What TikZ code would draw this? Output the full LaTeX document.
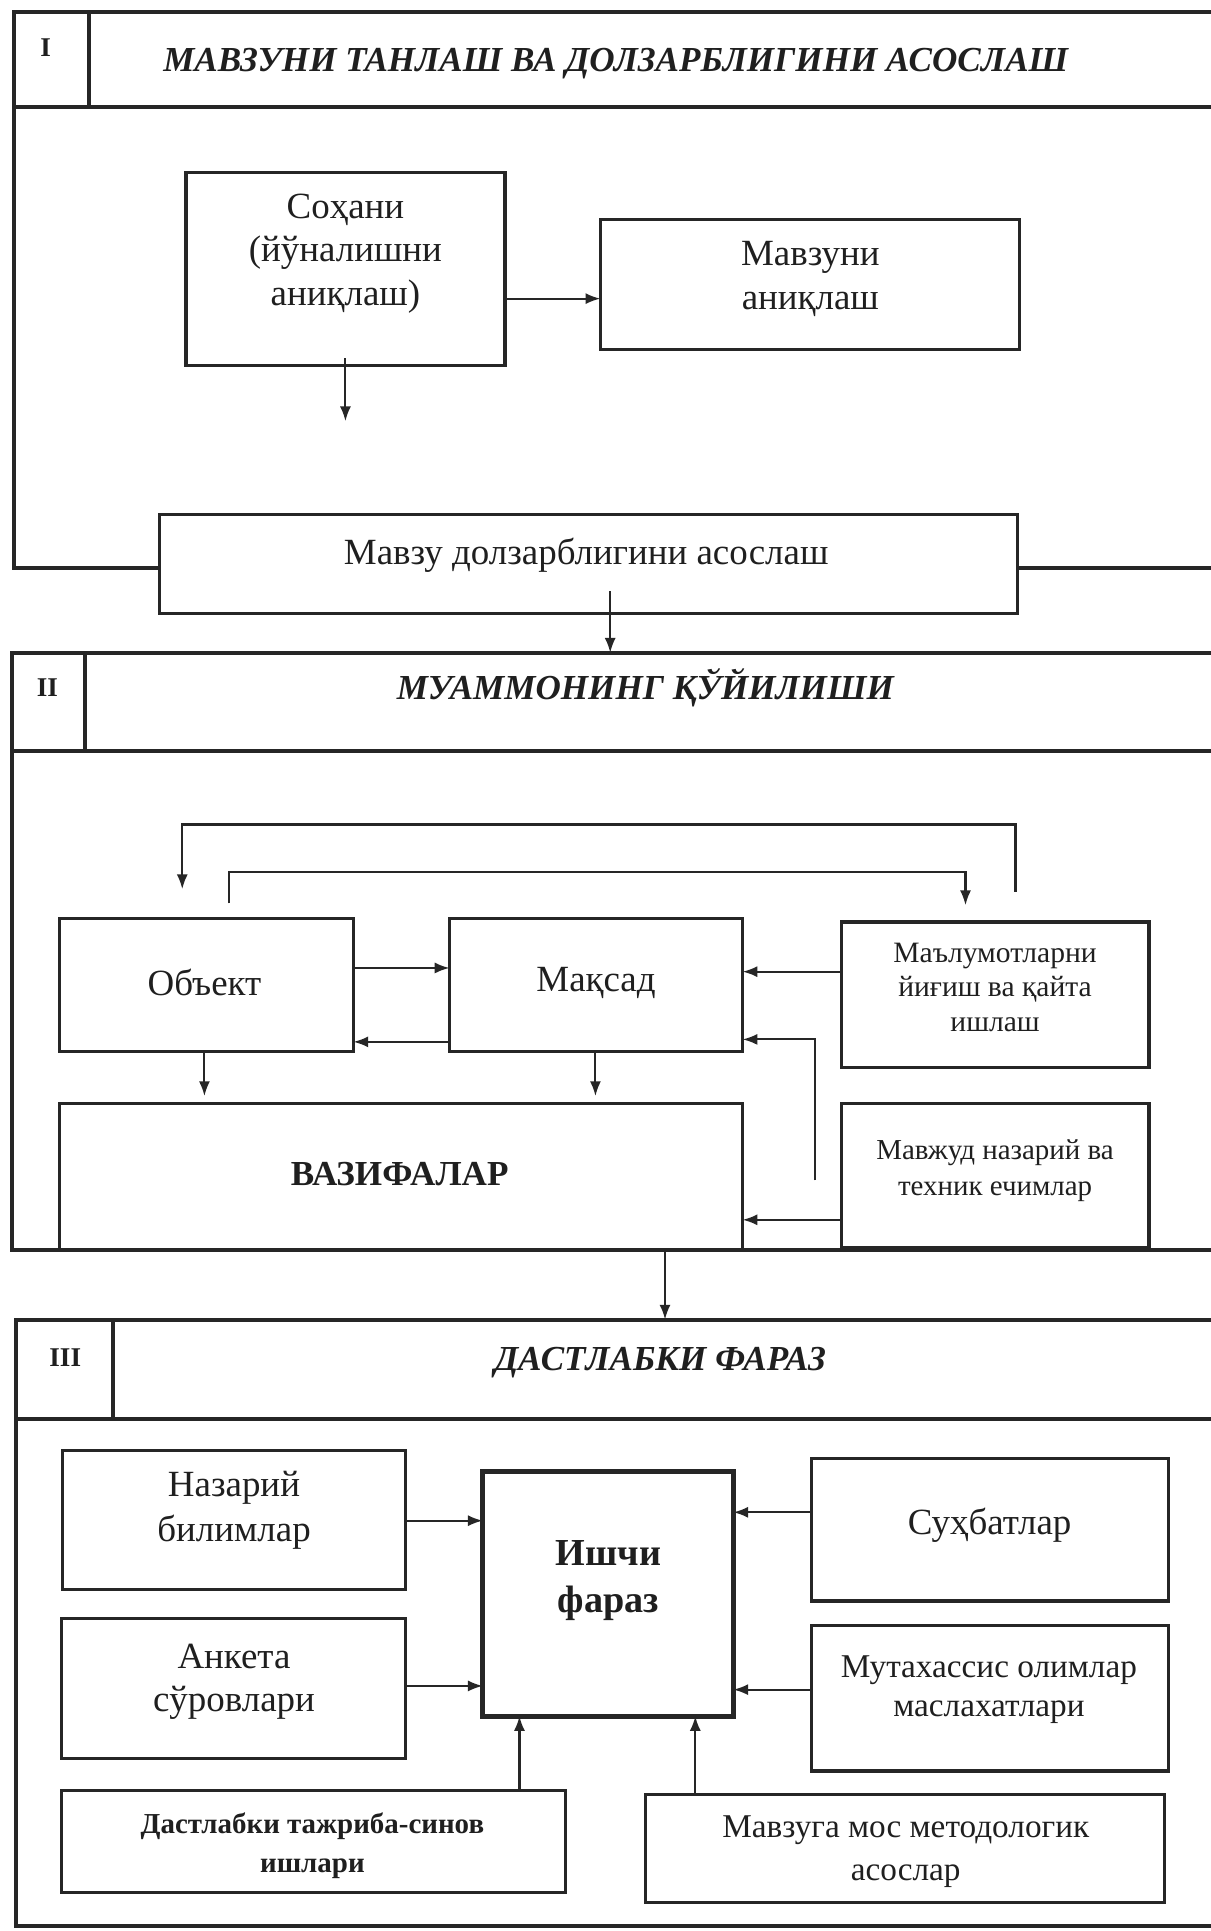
\documentclass[tikz,border=0pt]{standalone}
\usepackage{fontspec}
\setmainfont{Liberation Serif}
\usetikzlibrary{arrows.meta,fit,calc}
\newcommand\myfs[2]{\fontsize{#1}{#2}\selectfont}
\tikzset{
  frame/.style={line width=3.2pt, black!85},
  box/.style={draw=black!85, line width=2.6pt, fill=white, inner sep=0pt, outer sep=0pt, rectangle},
  thickbox/.style={box, line width=4.2pt},
  txt/.style={align=center, inner sep=0pt, text=black!88},
  ttl/.style={txt, font=\myfs{28.5}{34}\bfseries\itshape},
  num/.style={txt, font=\myfs{22}{26}\bfseries},
  arr/.style={line width=1.7pt, black!85, -{Latex[length=12pt,width=9pt]}},
}
\begin{document}
\begin{tikzpicture}[x=1pt,y=-1pt]
\fill[white] (0,0) rectangle (983,1568);
\useasboundingbox (0,0) rectangle (983,1568);

% ---------- Section I frame ----------
\draw[frame] (983,9.6) -- (11,9.6) -- (11,461) -- (983,461);
\draw[frame] (11,87) -- (983,87);
\draw[frame] (72,9.6) -- (72,87);
\node[num] (n1) at (37,38.5) {I};
\node[ttl] (t1) at (500,51.5) {МАВЗУНИ ТАНЛАШ ВА ДОЛЗАРБЛИГИНИ АСОСЛАШ};

% ---------- Section II frame ----------
\draw[frame] (983,530) -- (9.6,530) -- (9.6,1015) -- (983,1015);
\draw[frame] (9.6,610) -- (983,610);
\draw[frame] (69,530) -- (69,610);
\node[num] (n2) at (38.5,558.5) {II};
\node[ttl] (t2) at (524,558.4) {МУАММОНИНГ ҚЎЙИЛИШИ};

% ---------- Section III frame ----------
\draw[frame] (983,1071.5) -- (13,1071.5) -- (13,1564) -- (983,1564);
\draw[frame] (13,1152) -- (983,1152);
\draw[frame] (91.5,1071.5) -- (91.5,1152);
\node[num] (n3) at (53,1102) {III};
\node[ttl] (t3) at (536,1106.7) {ДАСТЛАБКИ ФАРАЗ};

% ---------- Section I boxes ----------
\node[box, fit={(151,140) (410,297)}] (soh) {};
\node[box, fit={(487.5,178) (828,284)}] (mavz) {};
\node[box, fit={(129.5,417.6) (826,498)}] (mdol) {};
\node[txt, font=\myfs{30}{35.3}] (soht) at (280.5,205.8) {Соҳани\\(йўналишни\\аниқлаш)};
\node[txt, font=\myfs{30}{35}] (mavzt) at (658,226.5) {Мавзуни\\аниқлаш};
\node[txt, font=\myfs{30}{35}] (mdolt) at (476,451) {Мавзу долзарблигини асослаш};

% ---------- Section II boxes ----------
\node[box, fit={(48,746) (287,854)}] (obj) {};
\node[box, fit={(365,746) (603,854)}] (maq) {};
\node[box, fit={(683,748.6) (933,867)}] (mal) {};
\node[box, fit={(48,896) (603,1015)}] (vaz) {};
\node[box, fit={(683,896) (933,1013)}] (mavj) {};
\node[txt, font=\myfs{30}{35}] (objt) at (166,798) {Объект};
\node[txt, font=\myfs{30}{35}] (maqt) at (484,798) {Мақсад};
\node[txt, font=\myfs{24}{28}] (malt) at (808,801.5) {Маълумотларни\\йиғиш ва қайта\\ишлаш};
\node[txt, font=\myfs{28.5}{34}\bfseries] (vazt) at (324.5,953.7) {ВАЗИФАЛАР};
\node[txt, font=\myfs{23.5}{29}] (mavjt) at (808,950.5) {Мавжуд назарий ва\\техник ечимлар};

% ---------- Section III boxes ----------
\node[box, fit={(51,1178) (329,1291)}] (naz) {};
\node[box, fit={(50,1314) (329,1428)}] (ank) {};
\node[thickbox, fit={(392,1195) (595.5,1393.5)}] (ish) {};
\node[box, fit={(659,1184.6) (949,1300)}] (suh) {};
\node[box, fit={(659,1320) (949,1438)}] (mut) {};
\node[box, fit={(50,1453.6) (459,1537)}] (dast) {};
\node[box, fit={(524,1457) (945.6,1545)}] (mmet) {};
\node[txt, font=\myfs{30}{37}] (nazt) at (190,1226.5) {Назарий\\билимлар};
\node[txt, font=\myfs{30}{35}] (ankt) at (190,1365.5) {Анкета\\сўровлари};
\node[txt, font=\myfs{31}{37.7}\bfseries] (isht) at (494,1283.5) {Ишчи\\фараз};
\node[txt, font=\myfs{30}{35}] (suht) at (803.6,1238.6) {Суҳбатлар};
\node[txt, font=\myfs{27}{32}] (mutt) at (803,1372) {Мутахассис олимлар\\маслахатлари};
\node[txt, font=\myfs{23.5}{32}\bfseries] (dastt) at (253.7,1498.7) {Дастлабки тажриба-синов\\ишлари};
\node[txt, font=\myfs{27}{35}] (mmett) at (735.5,1503.5) {Мавзуга мос методологик\\асослар};

% ---------- free ends ----------
\coordinate (sohd) at (280.5,342);
\coordinate (s2top) at (495.5,530);
\coordinate (s3top) at (540,1071.5);
\coordinate (lo1) at (824.6,724);
\coordinate (lo2) at (148,722);
\coordinate (li1) at (186,733.6);
\coordinate (li2) at (784,735);
\coordinate (mvs) at (662,958.5);

% ---------- connectors: section I ----------
\draw[arr] (soh.east |- 0,242.5) -- (mavz.west |- 0,242.5);
\draw[arr] ([yshift=6pt]soh.south) -- (sohd);
\draw[arr] ($(s2top |- mdol.south)+(0,-18)$) -- (s2top);

% ---------- connectors: section II ----------
\draw[arr] (obj.east |- 0,786) -- (maq.west |- 0,786);
\draw[arr] (maq.west |- 0,846) -- (obj.east |- 0,846);
\draw[arr] (mal.west |- 0,789) -- (maq.east |- 0,789);
\draw[arr] (mvs) |- (maq.east |- 0,844);
\draw[arr] (mavj.west |- 0,990.5) -- (vaz.east |- 0,990.5);
\draw[arr, shorten >=6pt] (obj.south -| 166,0) -- (vaz.north -| 166,0);
\draw[arr, shorten >=6pt] (maq.south -| 483.5,0) -- (vaz.north -| 483.5,0);
\draw[arr] (lo1) -- ++(0,-54.5) -| (lo2);
\draw[arr] (li1) -- ++(0,-25.6) -| (li2);
\draw[arr] (vaz.south -| s3top) -- (s3top);

% ---------- connectors: section III ----------
\draw[arr] (naz.east |- 0,1234.8) -- (ish.west |- 0,1234.8);
\draw[arr] (ank.east |- 0,1369) -- (ish.west |- 0,1369);
\draw[arr] (suh.west |- 0,1228) -- (ish.east |- 0,1228);
\draw[arr] (mut.west |- 0,1372) -- (ish.east |- 0,1372);
\draw[arr] (dast.north -| 421.8,0) -- (ish.south -| 421.8,0);
\draw[arr] (mmet.north -| 564.6,0) -- (ish.south -| 564.6,0);
\end{tikzpicture}
\end{document}
